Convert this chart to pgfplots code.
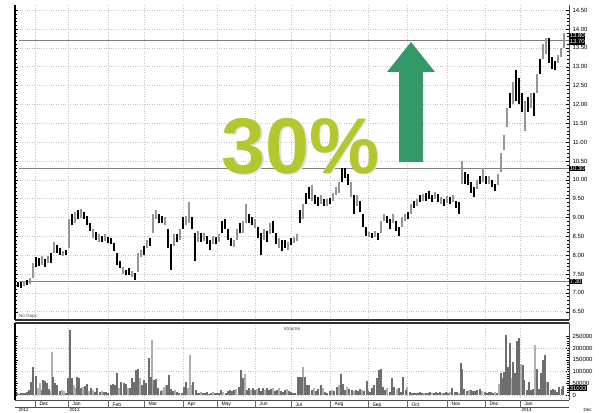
\documentclass[border=0pt]{standalone}
\usepackage{pgfplots}
\usepackage{pgfplotstable}
\usepackage{fontspec}
\setmainfont{Liberation Sans}
\pgfplotsset{compat=1.18}

\definecolor{pctgreen}{RGB}{180,199,46}
\definecolor{upgreen}{RGB}{52,152,104}
\definecolor{barlight}{RGB}{150,150,150}
\definecolor{vold}{RGB}{110,110,110}
\definecolor{voll}{RGB}{175,175,175}

% daily range: x position, low, high, colour flag (1 dark, 0 light)
\pgfplotstableread{
p l h c
18 7.15 7.30 1
21 7.12 7.28 1
24 7.18 7.32 0
27 7.22 7.35 1
30 7.24 7.40 0
33 7.40 7.80 0
36 7.70 7.95 1
39 7.72 7.92 1
42 7.75 7.98 0
45 7.70 7.90 1
48 7.78 7.98 0
51 7.80 8.05 1
54 8.05 8.35 0
57 8.05 8.28 1
60 8.00 8.18 1
63 7.98 8.12 0
66 8.00 8.15 1
69 8.20 8.95 0
72 8.80 9.10 1
75 8.85 9.15 0
78 8.95 9.20 1
81 8.98 9.22 0
84 8.95 9.15 1
87 8.80 9.05 1
90 8.65 8.85 1
93 8.45 8.70 0
96 8.40 8.62 1
99 8.35 8.55 0
102 8.35 8.52 1
105 8.38 8.55 0
108 8.32 8.48 1
111 8.30 8.45 1
114 8.10 8.32 1
117 7.75 8.05 1
120 7.65 7.85 1
123 7.50 7.70 0
126 7.48 7.62 1
129 7.48 7.65 1
132 7.42 7.58 0
135 7.35 7.52 1
138 7.55 8.05 0
141 7.95 8.15 0
144 8.00 8.25 1
147 8.20 8.40 0
150 8.25 8.45 1
153 8.60 9.10 0
156 8.95 9.20 0
159 8.85 9.10 1
162 8.85 9.05 1
165 8.80 9.00 0
168 8.20 8.70 1
171 7.60 8.30 1
174 8.25 8.55 0
177 8.35 8.55 1
180 8.40 8.70 0
183 8.70 9.00 1
186 8.80 9.05 0
189 8.85 9.40 0
192 8.70 9.00 1
195 7.85 8.60 1
198 8.35 8.65 0
201 8.35 8.60 1
204 8.38 8.58 0
207 8.30 8.52 1
210 8.15 8.40 1
213 8.30 8.50 0
216 8.30 8.48 1
219 8.35 8.55 0
222 8.60 8.90 1
225 8.70 8.95 1
228 8.40 8.70 1
231 8.25 8.45 1
234 8.22 8.40 0
237 8.40 8.70 0
240 8.60 8.85 1
243 8.60 8.90 0
246 8.85 9.35 0
249 8.85 9.10 1
252 8.80 9.00 1
255 8.72 8.95 0
258 8.45 8.75 1
261 8.00 8.60 1
264 8.40 8.70 0
267 8.35 8.65 1
270 8.55 8.85 0
273 8.60 8.90 1
276 8.30 8.60 1
279 8.20 8.45 0
282 8.10 8.40 1
285 8.18 8.40 1
288 8.15 8.35 0
291 8.28 8.45 1
294 8.32 8.48 0
297 8.38 8.55 0
300 8.85 9.20 1
303 8.95 9.35 0
306 9.35 9.65 1
309 9.50 9.80 1
312 9.45 9.85 0
315 9.35 9.60 1
318 9.30 9.55 1
321 9.35 9.60 0
324 9.30 9.50 1
327 9.30 9.48 0
330 9.35 9.52 1
333 9.45 9.65 0
336 9.60 9.80 0
339 9.65 9.95 0
342 9.95 10.30 1
345 10.05 10.30 1
348 9.85 10.15 1
351 9.55 9.95 0
354 9.10 9.60 1
357 9.30 9.60 0
360 9.15 9.45 1
363 8.75 9.10 1
366 8.50 8.75 1
369 8.48 8.62 0
372 8.45 8.60 1
375 8.48 8.65 0
378 8.40 8.58 1
381 8.60 8.90 0
384 8.90 9.10 0
387 8.85 9.05 1
390 8.70 8.95 1
393 8.85 9.10 0
396 8.65 8.90 1
399 8.52 8.75 1
402 8.75 9.00 0
405 8.90 9.10 0
408 8.95 9.15 1
411 9.10 9.35 0
414 9.25 9.45 1
417 9.30 9.50 0
420 9.40 9.60 1
423 9.45 9.62 0
426 9.45 9.65 1
429 9.50 9.70 1
432 9.40 9.60 1
435 9.48 9.68 0
438 9.40 9.62 1
441 9.35 9.55 0
444 9.30 9.50 1
447 9.38 9.58 0
450 9.35 9.55 1
453 9.40 9.60 0
456 9.25 9.45 1
459 9.10 9.40 1
462 9.90 10.50 0
465 9.90 10.20 1
468 9.85 10.15 1
471 9.65 9.95 1
474 9.55 9.80 1
477 9.75 10.00 0
480 9.90 10.10 1
483 9.95 10.30 0
486 9.90 10.10 1
489 9.90 10.10 0
492 9.80 10.00 1
495 9.70 9.90 1
498 9.85 10.15 0
501 10.20 10.70 0
504 10.80 11.20 0
507 11.40 11.90 0
510 11.90 12.30 1
513 12.00 12.60 0
516 12.10 12.90 1
519 12.00 12.70 1
522 11.80 12.30 1
525 11.30 12.10 0
528 11.80 12.20 1
531 11.90 12.30 0
534 11.70 12.30 1
537 12.30 12.80 0
540 12.80 13.20 1
543 13.20 13.60 0
546 13.35 13.75 0
549 13.10 13.75 1
552 12.95 13.25 1
555 12.90 13.15 1
558 13.10 13.30 0
561 13.25 13.50 0
564 13.50 13.90 0
}\price

% daily volume: x position, volume, colour flag
\pgfplotstableread{
p v c
17 8000 1
19 6000 1
21 8000 1
23 7000 1
25 9000 1
27 12000 1
29 21000 1
31 57000 1
33 120000 1
36 80000 1
38 28000 0
40 50000 0
42 21000 1
43 64000 1
45 60000 1
47 50000 1
49 25000 1
50 18000 0
52 184000 0
53 75000 1
55 50000 1
57 43000 1
60 18000 1
62 21000 0
64 17000 0
66 10000 1
68 71000 1
70 276000 1
72 71000 1
74 43000 0
76 28000 0
77 78000 1
79 71000 1
81 28000 1
83 35000 0
85 38000 1
87 45000 1
89 17000 0
91 28000 1
93 21000 0
95 14000 1
97 28000 1
100 14000 1
102 18000 0
104 14000 1
106 11000 1
108 10000 1
111 43000 1
113 45000 1
115 43000 1
117 95000 1
119 28000 0
121 57000 1
124 52000 1
126 45000 1
128 28000 0
130 28000 1
132 71000 1
134 57000 1
136 106000 1
138 110000 1
140 71000 0
142 43000 1
144 64000 1
146 50000 1
149 156000 1
151 78000 1
152 234000 0
154 64000 1
156 67000 1
158 28000 1
161 17000 1
162 21000 0
164 35000 0
166 43000 0
167 43000 1
169 85000 1
171 24000 1
173 18000 1
175 21000 0
177 14000 1
179 10000 1
182 7000 1
184 35000 1
186 57000 1
188 28000 0
190 170000 0
192 43000 0
193 57000 1
196 21000 1
197 10000 1
199 8000 1
201 12000 0
203 7000 1
205 10000 1
207 14000 1
209 6000 1
211 9000 1
213 12000 0
215 8000 1
217 10000 1
219 7000 1
221 21000 1
223 14000 0
226 10000 1
228 18000 1
230 22000 1
232 15000 1
234 21000 1
236 25000 0
239 35000 1
241 106000 1
243 71000 1
245 88000 0
247 21000 1
249 28000 1
251 22000 0
253 30000 1
255 20000 1
257 25000 0
259 28000 1
261 18000 1
263 30000 1
265 22000 0
267 28000 1
269 20000 1
271 25000 1
273 30000 0
275 18000 1
277 22000 1
279 28000 0
281 15000 1
283 12000 1
285 20000 1
287 25000 0
289 18000 1
291 12000 1
293 10000 1
295 8000 1
298 78000 1
300 78000 1
302 75000 1
303 120000 0
305 78000 1
307 43000 1
309 43000 1
312 21000 1
314 28000 0
316 18000 1
318 24000 1
321 43000 1
323 28000 0
325 14000 1
327 10000 1
330 15000 1
332 20000 0
334 17000 1
337 35000 1
339 43000 0
341 89000 1
343 47000 1
345 21000 1
347 33000 0
349 26000 1
352 21000 1
354 18000 0
356 22000 1
358 15000 1
360 25000 1
362 20000 0
364 17000 1
367 60000 1
368 17000 1
370 12000 1
372 28000 1
374 43000 1
377 71000 1
379 106000 1
381 109000 1
383 35000 1
385 21000 1
387 28000 0
390 14000 1
392 71000 1
394 33000 1
397 24000 0
399 28000 1
401 12000 1
403 78000 1
406 21000 1
407 35000 0
410 12000 1
412 8000 1
414 10000 1
416 7000 1
418 9000 1
420 12000 1
422 8000 1
424 10000 0
426 7000 1
428 9000 1
430 12000 1
432 10000 0
434 8000 1
436 14000 1
438 9000 1
440 12000 1
442 10000 0
444 8000 1
446 12000 1
448 9000 1
450 14000 0
452 28000 1
455 12000 1
457 14000 1
459 10000 0
461 138000 1
462 109000 1
464 24000 1
467 18000 1
469 22000 0
471 20000 1
473 15000 1
475 18000 1
477 22000 1
480 25000 1
482 15000 0
485 12000 1
487 10000 1
489 14000 1
491 11000 1
493 9000 1
495 12000 0
497 10000 1
499 47000 0
501 95000 1
503 71000 1
504 99000 1
506 255000 1
508 120000 1
510 220000 1
512 71000 0
513 142000 1
515 92000 1
517 231000 1
519 241000 1
521 130000 0
523 128000 1
524 64000 1
527 21000 1
529 57000 1
531 21000 1
533 24000 1
535 213000 0
537 109000 1
539 24000 1
541 92000 1
543 149000 1
545 170000 1
547 57000 0
548 57000 1
551 21000 1
553 26000 1
555 21000 1
557 14000 1
559 33000 1
562 24000 1
563 38000 1
}\volume

\pgfplotsset{
  every tick label/.append style={font=\fontsize{6}{7}\selectfont},
  /pgf/number format/assume math mode=true,
}

\begin{document}
\begin{tikzpicture}
\useasboundingbox (0,0) rectangle (599pt,412pt);

% ---- price panel ----
\begin{axis}[
  at={(15pt,92pt)}, anchor=south west,
  scale only axis, width=554pt, height=315pt,
  xmin=15, xmax=569, ymin=6.281, ymax=14.637,
  clip=false,
  axis line style={draw=none},
  xtick={35,68,108,144,183,217,255,291,330,368,407,447,485,520},
  xticklabels={}, xtick style={draw=none},
  ytick={6.5,7,...,14.5},
  ytick pos=both, yticklabel pos=right,
  minor y tick num=4,
  tick align=inside,
  major tick length=3pt, minor tick length=1.6pt,
  y tick style={black, line width=0.4pt},
  grid=major,
  grid style={dotted, gray!45, line width=0.6pt},
  yticklabel style={/pgf/number format/.cd, fixed, fixed zerofill, precision=2},
]
\draw[line width=1.6pt] (rel axis cs:0,0) -- (rel axis cs:0,1);
\draw[line width=0.5pt, black!70] (rel axis cs:1,0) -- (rel axis cs:1,1);
\draw[line width=1.6pt, black!80] (rel axis cs:0,0) -- (rel axis cs:1,0);

\draw[gray, line width=0.9pt] (axis cs:19,13.7) -- (axis cs:569,13.7);
\draw[gray, line width=0.9pt] (axis cs:19,10.3) -- (axis cs:569,10.3);
\draw[gray, line width=0.9pt] (axis cs:19,7.3) -- (axis cs:569,7.3);

\addplot[draw=none, mark=none,
  restrict expr to domain={\thisrow{c}}{-0.5:0.5},
  error bars/.cd, y dir=both, y explicit, error mark=none,
  error bar style={draw=barlight, line width=1.4pt}]
  table[x=p, y expr={(\thisrow{h}+\thisrow{l})/2},
        y error expr={(\thisrow{h}-\thisrow{l})/2}] {\price};
\addplot[draw=none, mark=none,
  restrict expr to domain={\thisrow{c}}{0.5:1.5},
  error bars/.cd, y dir=both, y explicit, error mark=none,
  error bar style={draw=black, line width=1.4pt}]
  table[x=p, y expr={(\thisrow{h}+\thisrow{l})/2},
        y error expr={(\thisrow{h}-\thisrow{l})/2}] {\price};

\fill[upgreen] (axis cs:399,10.47) -- (axis cs:399,12.86) -- (axis cs:387,12.86)
  -- (axis cs:411,13.655) -- (axis cs:435,12.86) -- (axis cs:423,12.86)
  -- (axis cs:423,10.47) -- cycle;

\node[anchor=base, inner sep=0pt, text=gray!25, font=\fontsize{79}{80}\selectfont\bfseries]
  at ([xshift=1.2pt,yshift=-1.5pt]axis cs:301,10.17) {30\%};
\node[anchor=base, inner sep=0pt, text=pctgreen, font=\fontsize{79}{80}\selectfont\bfseries]
  at (axis cs:301,10.17) {30\%};

\node[anchor=south west, inner sep=1pt, font=\fontsize{4.5}{5}\selectfont, text=black!70]
  at (axis cs:18,6.281) {No Gaps};

\node[anchor=west, fill=black, text=white, inner sep=0.6pt, font=\fontsize{6}{6}\selectfont]
  at (axis cs:569,13.82) {13.80};
\node[anchor=west, fill=black, text=white, inner sep=0.6pt, font=\fontsize{6}{6}\selectfont]
  at (axis cs:569,13.66) {13.70};
\node[anchor=west, fill=black, text=white, inner sep=0.6pt, font=\fontsize{6}{6}\selectfont]
  at (axis cs:569,10.3) {10.30};
\node[anchor=west, fill=black, text=white, inner sep=0.6pt, font=\fontsize{6}{6}\selectfont]
  at (axis cs:569,7.3) {7.30};
\end{axis}

% ---- volume panel ----
\begin{axis}[
  at={(15pt,12pt)}, anchor=south west,
  scale only axis, width=554pt, height=77pt,
  xmin=15, xmax=569, ymin=-21300, ymax=306400,
  clip=false,
  axis line style={draw=none},
  xtick={35,68,108,144,183,217,255,291,330,368,407,447,485,520},
  xticklabels={Dec,Jan,Feb,Mar,Apr,May,Jun,Jul,Aug,Sep,Oct,Nov,Dec,Jan},
  xtick pos=bottom, xtick style={draw=none},
  xticklabel style={anchor=north west, xshift=1pt, yshift=1pt, font=\fontsize{5}{5}\selectfont},
  xmajorgrids=true,
  ytick={0,50000,...,250000},
  ytick pos=both, yticklabel pos=right,
  minor y tick num=4,
  tick align=inside,
  major tick length=3pt, minor tick length=1.6pt,
  y tick style={black, line width=0.4pt},
  scaled y ticks=false,
  yticklabel style={/pgf/number format/.cd, fixed, precision=0, 1000 sep={}},
  extra y ticks={0,100000,200000}, extra y tick labels={},
  extra y tick style={grid=major, tick style={draw=none}},
  grid style={dotted, gray!45, line width=0.6pt},
]
\draw[line width=1.6pt] (rel axis cs:0,0) -- (rel axis cs:0,1);
\draw[line width=0.5pt, black!70] (rel axis cs:1,0) -- (rel axis cs:1,1);
\draw[line width=1.4pt, black!80] (rel axis cs:0,1) -- (rel axis cs:1,1);
\draw[line width=0.6pt, black!70] (rel axis cs:0,0) -- (rel axis cs:1,0);
\draw[line width=0.6pt, black!70] ([yshift=-7pt]rel axis cs:0,0) -- ([yshift=-7pt]rel axis cs:1,0);
\pgfplotsinvokeforeach{35,68,108,144,183,217,255,291,330,368,407,447,485,520}{
  \draw[line width=0.5pt, black!60] (axis cs:#1,-21300) -- ([yshift=-7pt]axis cs:#1,-21300);
}

\addplot[ycomb, voll, line width=1.1pt,
  restrict expr to domain={\thisrow{c}}{-0.5:0.5}] table[x=p, y=v] {\volume};
\addplot[ycomb, vold, line width=1.1pt,
  restrict expr to domain={\thisrow{c}}{0.5:1.5}] table[x=p, y=v] {\volume};

\node[font=\fontsize{5}{5}\selectfont, text=black!70] at (axis cs:292,284000) {Volume};
\node[anchor=west, fill=black, text=white, inner sep=0.6pt, font=\fontsize{6}{6}\selectfont]
  at (axis cs:569,30000) {31033};
\node[anchor=south west, inner sep=0.3pt, font=\fontsize{4.5}{5}\selectfont]
  at ([yshift=-12pt]axis cs:18,-21300) {2012};
\node[anchor=south west, inner sep=0.3pt, font=\fontsize{4.5}{5}\selectfont]
  at ([yshift=-12pt]axis cs:69,-21300) {2013};
\node[anchor=south west, inner sep=0.3pt, font=\fontsize{4.5}{5}\selectfont]
  at ([yshift=-12pt]axis cs:521,-21300) {2014};
\node[anchor=south west, inner sep=0.3pt, font=\fontsize{4.5}{5}\selectfont]
  at ([yshift=-12pt]axis cs:583,-21300) {Dec};
\end{axis}
\end{tikzpicture}
\end{document}
